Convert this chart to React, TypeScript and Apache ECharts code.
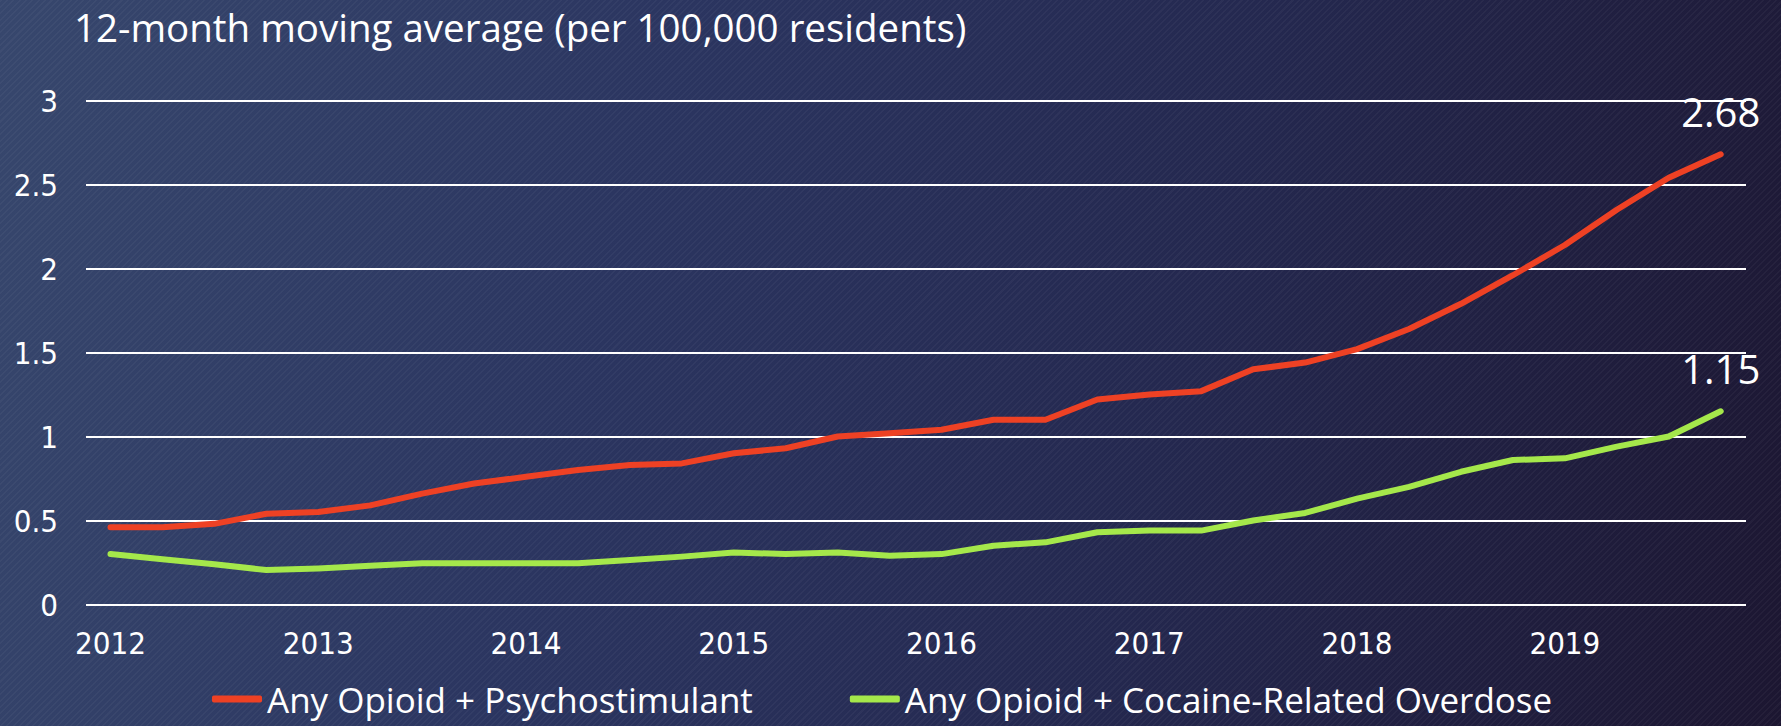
import React, { useEffect, useRef } from "react";
import * as echarts from "echarts";

const quarters = [
  "2012 Q1", "2012 Q2", "2012 Q3", "2012 Q4",
  "2013 Q1", "2013 Q2", "2013 Q3", "2013 Q4",
  "2014 Q1", "2014 Q2", "2014 Q3", "2014 Q4",
  "2015 Q1", "2015 Q2", "2015 Q3", "2015 Q4",
  "2016 Q1", "2016 Q2", "2016 Q3", "2016 Q4",
  "2017 Q1", "2017 Q2", "2017 Q3", "2017 Q4",
  "2018 Q1", "2018 Q2", "2018 Q3", "2018 Q4",
  "2019 Q1", "2019 Q2", "2019 Q3", "2019 Q4",
];

const psychostimulant = [
  0.46, 0.46, 0.48, 0.54, 0.55, 0.59, 0.66, 0.72,
  0.76, 0.8, 0.83, 0.84, 0.9, 0.93, 1.0, 1.02,
  1.04, 1.1, 1.1, 1.22, 1.25, 1.27, 1.4, 1.44,
  1.52, 1.64, 1.79, 1.96, 2.14, 2.35, 2.54, 2.68,
];

const cocaine = [
  0.3, 0.27, 0.24, 0.205, 0.215, 0.23, 0.245, 0.245,
  0.245, 0.245, 0.265, 0.285, 0.31, 0.3, 0.31, 0.29,
  0.3, 0.35, 0.37, 0.43, 0.44, 0.44, 0.5, 0.545,
  0.63, 0.7, 0.79, 0.86, 0.87, 0.94, 1.0, 1.15,
];

const seriesNames = ["Any Opioid + Psychostimulant", "Any Opioid + Cocaine-Related Overdose"];
const seriesColors = ["#EE4124", "#A5E84B"];
const titleText = "12-month moving average (per 100,000 residents)";

const FONT = "'Open Sans', 'Liberation Sans', sans-serif";
const AXIS_FONT = "'DejaVu Sans Condensed', 'Open Sans', sans-serif";

export default function App() {
  const ref = useRef<HTMLDivElement>(null);

  useEffect(() => {
    const chart = echarts.init(ref.current!, null, { renderer: "svg" });
    const last = quarters.length - 1;
    const mkSeries = (name: string, data: number[], color: string) => ({
      name,
      type: "line",
      xAxisIndex: 1,
      yAxisIndex: 1,
      data,
      symbol: "none",
      showSymbol: false,
      lineStyle: { color, width: 6, cap: "round", join: "round" },
      itemStyle: { color },
      markPoint: {
        symbol: "circle",
        symbolSize: 1,
        itemStyle: { color: "rgba(0,0,0,0)" },
        label: {
          show: true,
          position: "top",
          distance: 22,
          color: "#ffffff",
          fontSize: 40,
          fontFamily: FONT,
          formatter: "{c}",
        },
        data: [{ coord: [quarters[last], data[last]], value: data[last] }],
      },
    });

    chart.setOption({
      animation: false,
      backgroundColor: "transparent",
      title: {
        text: titleText,
        left: 74,
        top: 7,
        padding: 0,
        textStyle: { color: "#ffffff", fontSize: 38.5, fontWeight: "normal", fontFamily: FONT },
      },
      legend: {
        data: seriesNames,
        left: 212,
        top: 681,
        padding: 0,
        icon: "roundRect",
        itemWidth: 50,
        itemHeight: 7,
        itemGap: 97,
        textStyle: { color: "#ffffff", fontSize: 35, lineHeight: 36, fontFamily: FONT },
      },
      grid: [
        { left: 86, right: 35, top: 100.5, bottom: 121.5 },
        { left: 110.5, right: 60.3, top: 100.5, bottom: 121.5 },
      ],
      xAxis: [
        { type: "value", gridIndex: 0, show: false, min: 0, max: 1 },
        {
          type: "category",
          gridIndex: 1,
          data: quarters,
          boundaryGap: false,
          axisLine: { show: false },
          axisTick: { show: false },
          splitLine: { show: false },
          axisLabel: {
            interval: 3,
            color: "#ffffff",
            fontSize: 31,
            fontFamily: AXIS_FONT,
            margin: 23,
            formatter: (v: string) => v.slice(0, 4),
          },
        },
      ],
      yAxis: [
        {
          type: "value",
          gridIndex: 0,
          min: 0,
          max: 3,
          interval: 0.5,
          axisLine: { show: false },
          axisTick: { show: false },
          axisLabel: { color: "#ffffff", fontSize: 31, fontFamily: AXIS_FONT, margin: 28 },
          splitLine: { lineStyle: { color: "#ffffff", width: 2 } },
        },
        { type: "value", gridIndex: 1, min: 0, max: 3, show: false, splitLine: { show: false } },
      ],
      series: [
        mkSeries(seriesNames[0], psychostimulant, seriesColors[0]),
        mkSeries(seriesNames[1], cocaine, seriesColors[1]),
      ],
    });
    return () => chart.dispose();
  }, []);

  return (
    <div
      ref={ref}
      style={{
        position: "fixed",
        left: 0,
        top: 0,
        width: 1781,
        height: 726,
        background:
          "repeating-linear-gradient(135deg, rgba(255,255,255,0.035) 0px, rgba(255,255,255,0.035) 1.5px, rgba(0,0,0,0) 1.5px, rgba(0,0,0,0) 4.5px), linear-gradient(105deg, #37476d 0%, #2b3560 35%, #24284f 65%, #1c1631 100%)",
      }}
    />
  );
}
